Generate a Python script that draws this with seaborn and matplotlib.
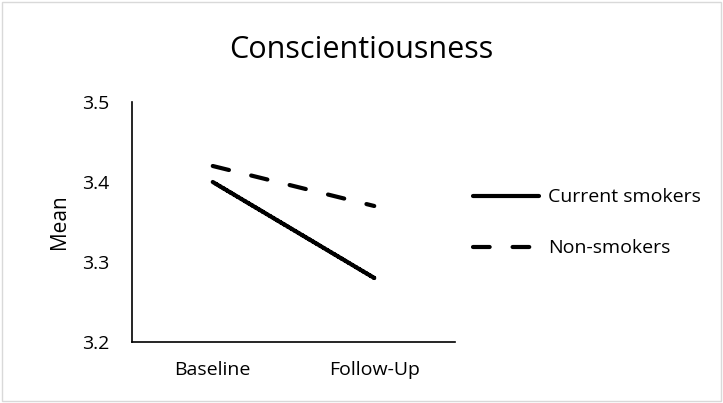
import matplotlib
matplotlib.use("Agg")
import matplotlib.pyplot as plt
from matplotlib.lines import Line2D
import pandas as pd
import seaborn as sns

# chart data
timepoints = ["Baseline", "Follow-Up"]
current_smokers = [3.40, 3.28]
non_smokers = [3.42, 3.37]
group_names = ["Current smokers", "Non-smokers"]

df = pd.DataFrame({
    "Time": timepoints * 2,
    "Mean": current_smokers + non_smokers,
    "Group": [group_names[0]] * 2 + [group_names[1]] * 2,
})

sns.set_style("white")
plt.rcParams["font.family"] = ["Open Sans", "DejaVu Sans"]
plt.rcParams["text.color"] = "black"
plt.rcParams["xtick.color"] = "black"
plt.rcParams["ytick.color"] = "black"
plt.rcParams["axes.labelcolor"] = "black"

fig = plt.figure(figsize=(7.23, 4.03), dpi=100)
ax = fig.add_axes([0.1826, 0.1514, 0.4467, 0.5955])

sns.lineplot(data=df, x="Time", y="Mean", hue="Group", style="Group",
             palette=["black", "black"], dashes=[(1, 0), (4, 5.5)],
             linewidth=3, ax=ax, sort=False, legend=False)
for ln in ax.get_lines():
    ln.set_solid_capstyle("round")
    ln.set_dash_capstyle("round")

ax.set_xlim(-0.5, 1.5)
ax.set_ylim(3.2, 3.5)
ax.set_yticks([3.2, 3.3, 3.4, 3.5])
ax.set_yticklabels(["3.2", "3.3", "3.4", "3.5"])
ax.tick_params(axis="y", length=0, labelsize=14, pad=16)
ax.tick_params(axis="x", length=0, labelsize=14, pad=14)
ax.set_xlabel("")
ax.set_ylabel("Mean", fontsize=15, labelpad=9)
for side in ["top", "right"]:
    ax.spines[side].set_visible(False)
for side in ["left", "bottom"]:
    ax.spines[side].set_color("black")
    ax.spines[side].set_linewidth(1.2)

fig.text(0.5, 0.876, "Conscientiousness", ha="center", va="center", fontsize=22)

handles = [Line2D([], [], color="black", lw=3, solid_capstyle="round"),
           Line2D([], [], color="black", lw=3, dashes=(4, 5.5), dash_capstyle="round")]
fig.legend(handles, group_names, loc="center left",
           bbox_to_anchor=(0.654, 0.447), frameon=False, fontsize=14,
           handlelength=3.4, handletextpad=0.45, labelspacing=1.7,
           borderaxespad=0, borderpad=0)

fig.patches.append(plt.Rectangle((0.003, 0.005), 0.994, 0.99, transform=fig.transFigure,
                                 fill=False, edgecolor="#d9d9d9", linewidth=1))

fig.savefig("out.png", dpi=100)
